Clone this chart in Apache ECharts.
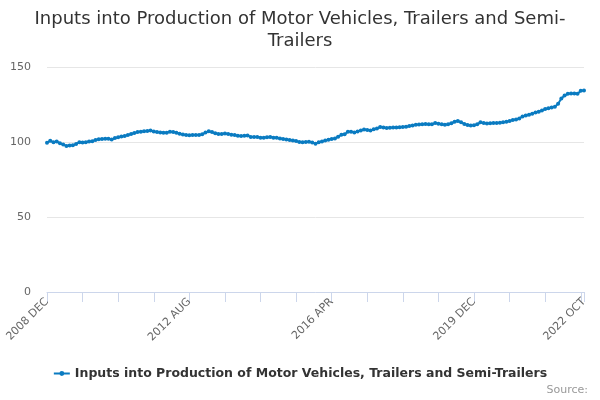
<!DOCTYPE html>
<html>
<head>
<meta charset="utf-8">
<script src="https://cdn.jsdelivr.net/npm/echarts@6/dist/echarts.min.js"></script>
<style>
  html, body { margin: 0; padding: 0; background: #fff; }
  #chart { width: 600px; height: 400px; }
</style>
</head>
<body>
<div id="chart"></div>
<script>
const seriesName = 'Inputs into Production of Motor Vehicles, Trailers and Semi-Trailers';
const monthNames = ['JAN', 'FEB', 'MAR', 'APR', 'MAY', 'JUN', 'JUL', 'AUG', 'SEP', 'OCT', 'NOV', 'DEC'];

// monthly index values, 2008 DEC .. 2022 OCT
const values = [
  99.5, 100.8, 99.9, 100.3, 99.2, 98.3, 97.4, 97.6, 97.8, 98.7,
  99.8, 99.6, 99.8, 100.3, 100.5, 101.4, 101.8, 102.0, 102.2, 102.1,
  101.6, 102.6, 103.2, 103.7, 104.0, 104.6, 105.3, 106.0, 106.6, 106.9,
  107.1, 107.3, 107.6, 107.0, 106.7, 106.4, 106.2, 106.1, 106.8, 106.7,
  106.1, 105.5, 105.0, 104.6, 104.5, 104.6, 104.6, 104.7, 105.2, 106.3,
  107.2, 106.6, 105.8, 105.3, 105.4, 105.6, 105.4, 104.9, 104.6, 104.2,
  104.0, 104.1, 104.3, 103.4, 103.3, 103.3, 102.9, 102.8, 103.1, 103.3,
  102.9, 102.8, 102.4, 102.0, 101.6, 101.4, 101.0, 100.6, 100.0, 99.8,
  100.0, 100.2, 99.6, 98.9, 99.8, 100.3, 101.0, 101.5, 102.0, 102.4,
  103.5, 104.8, 105.2, 106.8, 106.9, 106.3, 107.0, 107.6, 108.3, 108.0,
  107.6, 108.5, 109.0, 110.0, 109.6, 109.4, 109.5, 109.6, 109.7, 109.8,
  110.0, 110.1, 110.6, 111.0, 111.5, 111.6, 111.8, 112.0, 111.8, 111.9,
  112.6, 112.1, 111.8, 111.5, 111.9, 112.5, 113.5, 114.0, 113.2, 112.0,
  111.3, 111.0, 111.2, 111.8, 113.1, 112.6, 112.4, 112.5, 112.6, 112.7,
  112.8, 113.2, 113.5, 114.0, 114.6, 115.0, 115.7, 117.0, 117.7, 118.1,
  118.9, 119.6, 120.2, 121.0, 122.0, 122.5, 123.0, 123.5, 125.5, 129.0,
  131.0, 132.1, 132.4, 132.4, 132.2, 134.2, 134.3
];

// category labels: one per month starting 2008 DEC
const categories = values.map((v, i) => {
  const m = 11 + i;
  return (2008 + Math.floor(m / 12)) + ' ' + monthNames[m % 12];
});
const lastIdx = categories.length - 1;

const chart = echarts.init(document.getElementById('chart'));

chart.setOption({
  animation: false,
  title: [
    {
      text: 'Inputs into Production of Motor Vehicles, Trailers and Semi-\nTrailers',
      left: 'center',
      top: 3,
      textStyle: {
        fontFamily: 'DejaVu Sans',
        fontSize: 18,
        fontWeight: 'normal',
        color: '#333333',
        lineHeight: 22
      }
    },
    {
      text: 'Source:',
      right: 7,
      bottom: -1,
      textStyle: {
        fontFamily: 'DejaVu Sans',
        fontSize: 11,
        fontWeight: 'normal',
        color: '#999999'
      }
    }
  ],
  legend: {
    bottom: 15,
    left: 'center',
    itemWidth: 16,
    itemHeight: 6,
    itemGap: 5,
    textStyle: {
      fontFamily: 'DejaVu Sans',
      fontSize: 12.5,
      fontWeight: 'bold',
      color: '#333333'
    },
    data: [seriesName]
  },
  grid: {
    left: 47,
    right: 16,
    top: 67,
    bottom: 108
  },
  xAxis: {
    type: 'category',
    boundaryGap: false,
    data: categories,
    axisLine: { lineStyle: { color: '#ccd6eb' } },
    axisTick: {
      length: 10,
      lineStyle: { color: '#ccd6eb' },
      interval: (idx) => idx % 11 === 0 || idx === lastIdx
    },
    axisLabel: {
      rotate: 45,
      margin: 8,
      fontFamily: 'DejaVu Sans',
      fontSize: 11,
      color: '#666666',
      interval: (idx) => idx % 44 === 0 || idx === lastIdx
    },
    splitLine: { show: false }
  },
  yAxis: {
    type: 'value',
    min: 0,
    max: 150,
    interval: 50,
    axisLine: { show: false },
    axisTick: { show: false },
    axisLabel: {
      margin: 16,
      fontFamily: 'DejaVu Sans',
      fontSize: 11,
      color: '#666666'
    },
    splitLine: { lineStyle: { color: '#e6e6e6' } }
  },
  series: [
    {
      name: seriesName,
      type: 'line',
      data: values,
      symbol: 'circle',
      symbolSize: 4,
      showAllSymbol: true,
      itemStyle: { color: '#0a7bc1' },
      lineStyle: { color: '#0a7bc1', width: 2 }
    }
  ]
});

window.addEventListener('resize', () => {
  chart.resize();
});
</script>
</body>
</html>
